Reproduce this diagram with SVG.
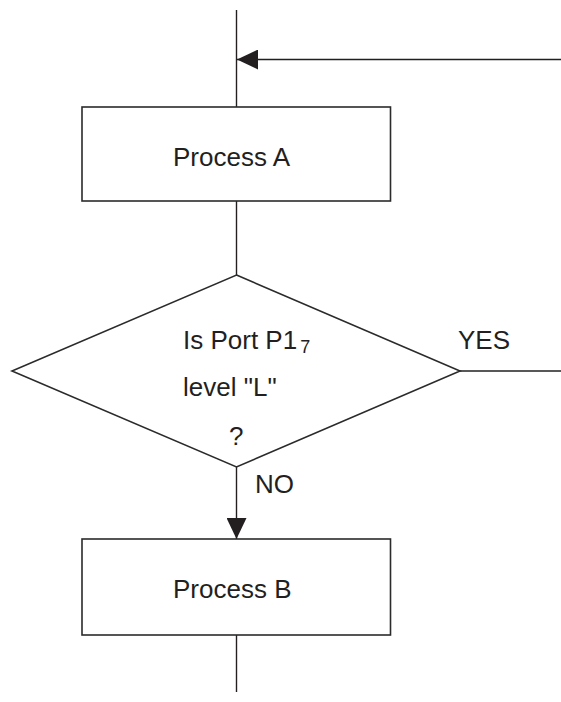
<svg xmlns="http://www.w3.org/2000/svg" width="561" height="702" viewBox="0 0 561 702">
<style>
.shape{fill:#ffffff;stroke:#2b2b2b;stroke-width:1.6}
.line{fill:none;stroke:#231f20;stroke-width:1.4}
.t{font-family:"Liberation Sans",Arial,sans-serif;font-size:26px;fill:#231f20}
.sub{font-size:18px}
</style>
<defs>
<marker id="arr" viewBox="0 0 21 20" refX="21" refY="10" markerWidth="21" markerHeight="20" markerUnits="userSpaceOnUse" orient="auto">
<path d="M0,0 L21,10 L0,20 Z" fill="#231f20"/>
</marker>
</defs>
<rect width="561" height="702" fill="#ffffff"/>
<g id="connectors">
<line class="line" x1="236.5" y1="10" x2="236.5" y2="107"/>
<line class="line" x1="561" y1="59.5" x2="237" y2="59.5" marker-end="url(#arr)"/>
<line class="line" x1="236.5" y1="201" x2="236.5" y2="275"/>
<line class="line" x1="460" y1="371" x2="561" y2="371"/>
<line class="line" x1="236.5" y1="467" x2="236.5" y2="539" marker-end="url(#arr)"/>
<line class="line" x1="236.5" y1="635" x2="236.5" y2="692"/>
</g>
<g id="processA">
<rect class="shape" x="82" y="107" width="308.5" height="94"/>
<text class="t" x="173" y="166">Process A</text>
</g>
<g id="decision">
<polygon class="shape" points="236.5,275 460,371 236.5,467 12,371"/>
<text class="t" x="183" y="349">Is Port P1<tspan class="sub" dx="3" dy="4">7</tspan></text>
<text class="t" x="183" y="396">level "L"</text>
<text class="t" x="229" y="445">?</text>
</g>
<g id="labels">
<text class="t" x="458" y="349">YES</text>
<text class="t" x="255" y="493">NO</text>
</g>
<g id="processB">
<rect class="shape" x="82" y="539" width="308.5" height="96"/>
<text class="t" x="173" y="598">Process B</text>
</g>
</svg>
